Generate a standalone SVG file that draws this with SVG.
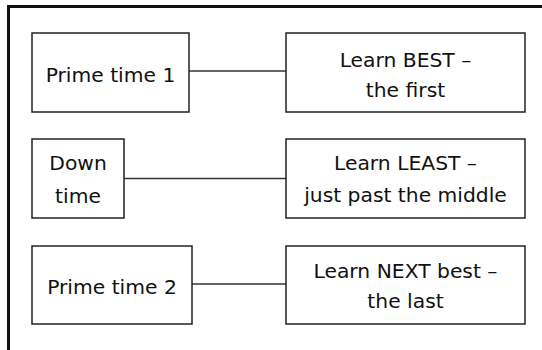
<svg xmlns="http://www.w3.org/2000/svg" width="542" height="350" viewBox="0 0 542 350">
<style>
.box{fill:#fff;stroke:#222;stroke-width:1.5}
.t{font-family:"DejaVu Sans",Verdana,sans-serif;font-size:20.3px;fill:#111;text-anchor:middle}
.c{stroke:#333;stroke-width:1.3;fill:none}
</style>
<rect width="542" height="350" fill="#fff"/>
<path d="M8.5,350 V6.5 H542" fill="none" stroke="#111" stroke-width="3"/>
<g id="connectors">
<line class="c" x1="189" y1="71" x2="286" y2="71"/>
<line class="c" x1="124" y1="178.5" x2="286" y2="178.5"/>
<line class="c" x1="192" y1="284" x2="286" y2="284"/>
</g>
<g id="prime1">
<rect class="box" x="32" y="33" width="157" height="79"/>
<text class="t" x="110.5" y="82">Prime time 1</text>
</g>
<g id="best">
<rect class="box" x="286" y="33" width="239" height="79"/>
<text class="t" x="405.5" y="67">Learn BEST –</text>
<text class="t" x="405.5" y="97">the first</text>
</g>
<g id="down">
<rect class="box" x="32" y="139" width="92" height="79"/>
<text class="t" x="78" y="170">Down</text>
<text class="t" x="78" y="203">time</text>
</g>
<g id="least">
<rect class="box" x="286" y="139" width="239" height="79"/>
<text class="t" x="405.5" y="170">Learn LEAST –</text>
<text class="t" x="405.5" y="202">just past the middle</text>
</g>
<g id="prime2">
<rect class="box" x="32" y="246" width="160" height="78"/>
<text class="t" x="112" y="294">Prime time 2</text>
</g>
<g id="next">
<rect class="box" x="286" y="246" width="239" height="78"/>
<text class="t" x="405.5" y="278">Learn NEXT best –</text>
<text class="t" x="405.5" y="308">the last</text>
</g>
</svg>
